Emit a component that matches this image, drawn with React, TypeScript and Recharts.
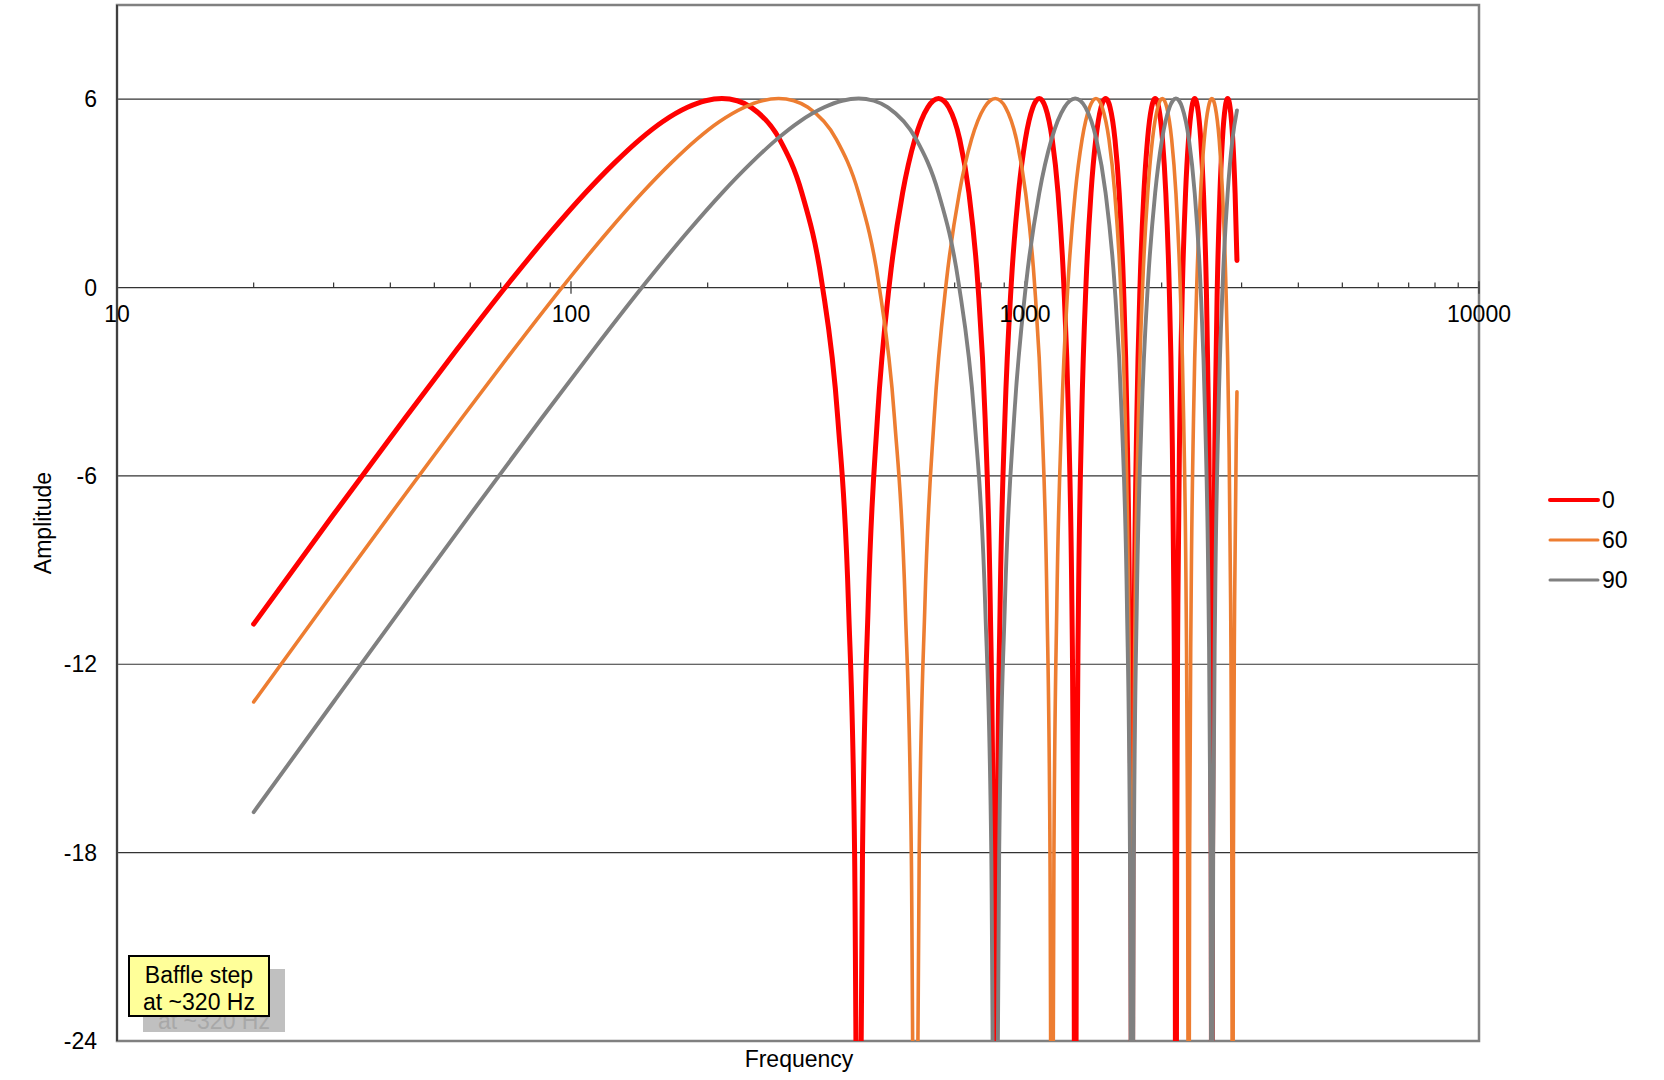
import React from 'react';
import {
  LineChart,
  Line,
  XAxis,
  YAxis,
  CartesianGrid,
  ReferenceLine,
  ReferenceDot,
  ReferenceArea,
} from 'recharts';

const FONT = '"Liberation Sans", Arial, Helvetica, sans-serif';

// axis ticks
const xTicks = [10, 100, 1000, 10000];
const xMinorTicks = [
  20, 30, 40, 50, 60, 70, 80, 90,
  200, 300, 400, 500, 600, 700, 800, 900,
  2000, 3000, 4000, 5000, 6000, 7000, 8000, 9000,
];
const yTicks = [-24, -18, -12, -6, 0, 6];

// 0 degrees (red)
const zeroFreq = [
  20, 30.1, 43, 55.9, 73.1, 90.3, 107.5, 124.7, 141.9, 159.1, 180.6, 197.8, 215, 232.2, 249.4, 288.1, 322.5, 356.9, 387, 408.5, 421.4, 427.85,
  432.15, 438.6, 451.5, 473, 503.1, 537.5, 571.9, 610.6, 627.8, 645, 662.2, 679.4, 718.1, 752.5, 786.9, 817, 838.5, 851.4, 857.85,
  862.15, 868.6, 881.5, 903, 933.1, 967.5, 1001.9, 1040.6, 1057.8, 1075, 1092.2, 1109.4, 1148.1, 1182.5, 1216.9, 1247, 1268.5, 1281.4, 1287.85,
  1292.15, 1298.6, 1311.5, 1333, 1363.1, 1397.5, 1431.9, 1470.6, 1487.8, 1505, 1522.2, 1539.4, 1578.1, 1612.5, 1646.9, 1677, 1698.5, 1711.4, 1717.85,
  1722.15, 1728.6, 1741.5, 1763, 1793.1, 1827.5, 1861.9, 1900.6, 1917.8, 1935, 1952.2, 1969.4, 2008.1, 2042.5, 2076.9, 2107, 2128.5, 2141.4, 2147.85,
  2152.15, 2158.6, 2171.5, 2193, 2223.1, 2257.5, 2291.9, 2330.6, 2347.8, 2365, 2382.2, 2399.4, 2438.1, 2472.5, 2506.9, 2537, 2558.5, 2571.4, 2577.85,
  2582.15, 2588.6, 2601.5, 2623, 2653.1, 2687.5, 2721.9, 2760.6, 2777.8, 2795, 2812.2, 2829.4, 2868.1, 2902.5, 2930,
];
const zeroDb = [
  -10.72, -7.2, -4.18, -2.0, 0.16, 1.77, 3.01, 3.97, 4.72, 5.28, 5.74, 5.95, 6.02, 5.95, 5.74, 4.72, 3.01, 0.16, -4.18, -10.09, -18.02, -30.06,
  -30.06, -18.02, -10.09, -4.18, 0.16, 3.01, 4.72, 5.74, 5.95, 6.02, 5.95, 5.74, 4.72, 3.01, 0.16, -4.18, -10.09, -18.02, -30.06,
  -30.06, -18.02, -10.09, -4.18, 0.16, 3.01, 4.72, 5.74, 5.95, 6.02, 5.95, 5.74, 4.72, 3.01, 0.16, -4.18, -10.09, -18.02, -30.06,
  -30.06, -18.02, -10.09, -4.18, 0.16, 3.01, 4.72, 5.74, 5.95, 6.02, 5.95, 5.74, 4.72, 3.01, 0.16, -4.18, -10.09, -18.02, -30.06,
  -30.06, -18.02, -10.09, -4.18, 0.16, 3.01, 4.72, 5.74, 5.95, 6.02, 5.95, 5.74, 4.72, 3.01, 0.16, -4.18, -10.09, -18.02, -30.06,
  -30.06, -18.02, -10.09, -4.18, 0.16, 3.01, 4.72, 5.74, 5.95, 6.02, 5.95, 5.74, 4.72, 3.01, 0.16, -4.18, -10.09, -18.02, -30.06,
  -30.06, -18.02, -10.09, -4.18, 0.16, 3.01, 4.72, 5.74, 5.95, 6.02, 5.95, 5.74, 4.72, 3.01, 0.86,
];

// 60 degrees (orange)
const sixtyFreq = [
  20, 28.67, 40.13, 57.33, 74.53, 97.46, 120.39, 143.33, 166.26, 189.19, 212.12, 240.79, 263.72, 286.65, 309.58, 332.51, 384.11, 429.98, 475.84, 515.97, 544.64, 561.83, 570.43,
  576.17, 584.77, 601.97, 630.63, 670.76, 716.63, 762.49, 814.09, 837.02, 859.95, 882.88, 905.81, 957.41, 1003.28, 1049.14, 1089.27, 1117.94, 1135.13, 1143.73,
  1149.47, 1158.07, 1175.27, 1203.93, 1244.06, 1289.93, 1335.79, 1387.39, 1410.32, 1433.25, 1456.18, 1479.11, 1530.71, 1576.58, 1622.44, 1662.57, 1691.24, 1708.43, 1717.03,
  1722.77, 1731.37, 1748.57, 1777.23, 1817.36, 1863.23, 1909.09, 1960.69, 1983.62, 2006.55, 2029.48, 2052.41, 2104.01, 2149.88, 2195.74, 2235.87, 2264.54, 2281.73, 2290.33,
  2296.07, 2304.67, 2321.87, 2350.53, 2390.66, 2436.53, 2482.39, 2533.99, 2556.92, 2579.85, 2602.78, 2625.71, 2677.31, 2723.18, 2769.04, 2809.17, 2837.84, 2855.03, 2863.63,
  2869.37, 2877.97, 2895.17, 2923.83, 2930,
];
const sixtyDb = [
  -13.2, -10.09, -7.2, -4.18, -2.0, 0.16, 1.77, 3.01, 3.97, 4.72, 5.28, 5.74, 5.95, 6.02, 5.95, 5.74, 4.72, 3.01, 0.16, -4.18, -10.09, -18.02, -30.06,
  -30.06, -18.02, -10.09, -4.18, 0.16, 3.01, 4.72, 5.74, 5.95, 6.02, 5.95, 5.74, 4.72, 3.01, 0.16, -4.18, -10.09, -18.02, -30.06,
  -30.06, -18.02, -10.09, -4.18, 0.16, 3.01, 4.72, 5.74, 5.95, 6.02, 5.95, 5.74, 4.72, 3.01, 0.16, -4.18, -10.09, -18.02, -30.06,
  -30.06, -18.02, -10.09, -4.18, 0.16, 3.01, 4.72, 5.74, 5.95, 6.02, 5.95, 5.74, 4.72, 3.01, 0.16, -4.18, -10.09, -18.02, -30.06,
  -30.06, -18.02, -10.09, -4.18, 0.16, 3.01, 4.72, 5.74, 5.95, 6.02, 5.95, 5.74, 4.72, 3.01, 0.16, -4.18, -10.09, -18.02, -30.06,
  -30.06, -18.02, -10.09, -4.18, -3.32,
];

// 90 degrees (grey)
const ninetyFreq = [
  20, 30.1, 43, 60.2, 86, 111.8, 146.2, 180.6, 215, 249.4, 283.8, 318.2, 361.2, 395.6, 430, 464.4, 498.8, 576.2, 645, 713.8, 774, 817, 842.8, 855.7,
  864.3, 877.2, 903, 946, 1006.2, 1075, 1143.8, 1221.2, 1255.6, 1290, 1324.4, 1358.8, 1436.2, 1505, 1573.8, 1634, 1677, 1702.8, 1715.7,
  1724.3, 1737.2, 1763, 1806, 1866.2, 1935, 2003.8, 2081.2, 2115.6, 2150, 2184.4, 2218.8, 2296.2, 2365, 2433.8, 2494, 2537, 2562.8, 2575.7,
  2584.3, 2597.2, 2623, 2666, 2726.2, 2795, 2863.8, 2930,
];
const ninetyDb = [
  -16.71, -13.17, -10.09, -7.2, -4.18, -2.0, 0.16, 1.77, 3.01, 3.97, 4.72, 5.28, 5.74, 5.95, 6.02, 5.95, 5.74, 4.72, 3.01, 0.16, -4.18, -10.09, -18.02, -30.06,
  -30.06, -18.02, -10.09, -4.18, 0.16, 3.01, 4.72, 5.74, 5.95, 6.02, 5.95, 5.74, 4.72, 3.01, 0.16, -4.18, -10.09, -18.02, -30.06,
  -30.06, -18.02, -10.09, -4.18, 0.16, 3.01, 4.72, 5.74, 5.95, 6.02, 5.95, 5.74, 4.72, 3.01, 0.16, -4.18, -10.09, -18.02, -30.06,
  -30.06, -18.02, -10.09, -4.18, 0.16, 3.01, 4.72, 5.64,
];

const toPoints = (freq: number[], db: number[]) =>
  freq.slice(0, Math.min(freq.length, db.length)).map((f, i) => ({ f, db: db[i] }));

const series = [
  { name: '0', color: '#FF0000', width: 5, data: toPoints(zeroFreq, zeroDb) },
  { name: '60', color: '#ED7D31', width: 3.6, data: toPoints(sixtyFreq, sixtyDb) },
  { name: '90', color: '#808080', width: 3.9, data: toPoints(ninetyFreq, ninetyDb) },
];

const textStyle: React.CSSProperties = { fontFamily: FONT, fontSize: 23, color: '#000' };

export default function App() {
  return (
    <div style={{ position: 'absolute', left: 0, top: 0, width: 1664, height: 1080, background: '#fff' }}>
      <LineChart width={1664} height={1080} margin={{ top: 5, right: 185, bottom: 39, left: 0 }}>
        <CartesianGrid vertical={false} stroke="#333333" strokeWidth={1.2} />
        <XAxis type="number" dataKey="f" scale="log" domain={[10, 10000]} ticks={xTicks} allowDataOverflow hide />
        <YAxis
          type="number"
          domain={[-24, 9]}
          ticks={yTicks}
          allowDataOverflow
          width={117}
          tickLine={false}
          tickMargin={14}
          axisLine={{ stroke: '#404040', strokeWidth: 2 }}
          tick={{ fill: '#000', fontSize: 23, fontFamily: FONT }}
        />
        <ReferenceArea x1={10} x2={10000} y1={-24} y2={9} fill="none" stroke="#808080" strokeWidth={2.5} ifOverflow="visible" />
        {xMinorTicks.map((t) => (
          <ReferenceLine key={'m' + t} segment={[{ x: t, y: 0 }, { x: t, y: 0.16 }]} stroke="#333333" strokeWidth={1.2} />
        ))}
        {xTicks.map((t) => (
          <ReferenceLine key={'M' + t} segment={[{ x: t, y: -0.2 }, { x: t, y: 0.2 }]} stroke="#333333" strokeWidth={1.2} />
        ))}
        {xTicks.map((t) => (
          <ReferenceDot
            key={'l' + t}
            x={t}
            y={0}
            r={0}
            fill="none"
            stroke="none"
            label={{ value: String(t), position: 'bottom', offset: 18, fontSize: 23, fill: '#000', fontFamily: FONT }}
          />
        ))}
        {series.map((s) => (
          <Line
            key={s.name}
            data={s.data}
            dataKey="db"
            name={s.name}
            type="monotone"
            stroke={s.color}
            strokeWidth={s.width}
            strokeLinecap="round"
            strokeLinejoin="round"
            dot={false}
            activeDot={false}
            isAnimationActive={false}
          />
        ))}
      </LineChart>

      {/* axis titles */}
      <div
        style={{
          ...textStyle,
          position: 'absolute',
          left: 43,
          top: 523,
          transform: 'translate(-50%, -50%) rotate(-90deg)',
          whiteSpace: 'nowrap',
        }}
      >
        Amplitude
      </div>
      <div
        style={{
          ...textStyle,
          position: 'absolute',
          left: 799,
          top: 1059,
          transform: 'translate(-50%, -50%)',
          whiteSpace: 'nowrap',
        }}
      >
        Frequency
      </div>

      {/* legend */}
      <div style={{ position: 'absolute', left: 1548, top: 480 }}>
        {series.map((s) => (
          <div key={s.name} style={{ display: 'flex', alignItems: 'center', height: 40 }}>
            <svg width={52} height={8} style={{ display: 'block' }}>
              <line x1={2} y1={4} x2={50} y2={4} stroke={s.color} strokeWidth={s.name === '0' ? 4 : 3} strokeLinecap="round" />
            </svg>
            <span style={{ ...textStyle, marginLeft: 2, lineHeight: '40px' }}>{s.name}</span>
          </div>
        ))}
      </div>

      {/* annotation with its drop shadow (shadow carries faded copy of the text) */}
      <div
        style={{
          ...textStyle,
          position: 'absolute',
          left: 143,
          top: 969,
          width: 142,
          height: 63,
          boxSizing: 'border-box',
          background: '#C0C0C0',
          color: '#A8A8A8',
          textAlign: 'center',
          lineHeight: '27px',
          paddingTop: 12,
          overflow: 'hidden',
        }}
      >
        Baffle step
        <br />
        at ~320 Hz
      </div>
      <div
        style={{
          ...textStyle,
          position: 'absolute',
          left: 128,
          top: 955,
          width: 142,
          height: 62,
          boxSizing: 'border-box',
          background: '#FFFF99',
          border: '2px solid #000',
          textAlign: 'center',
          lineHeight: '27px',
          paddingTop: 5,
        }}
      >
        Baffle step
        <br />
        at ~320 Hz
      </div>
    </div>
  );
}
